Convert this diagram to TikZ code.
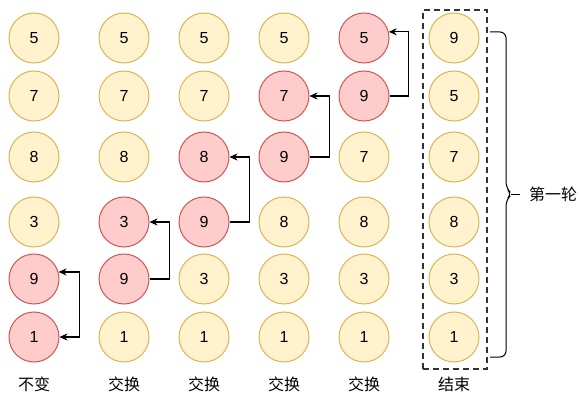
\documentclass[tikz,border=0pt]{standalone}
\usepackage{fontspec}
\setmainfont{Liberation Sans}
\newfontfamily\cjk{Noto Sans CJK SC}
\usetikzlibrary{arrows.meta}
\definecolor{ylfill}{HTML}{FFF2CC}
\definecolor{yldraw}{HTML}{D6B656}
\definecolor{rdfill}{HTML}{FFCCCC}
\definecolor{rddraw}{HTML}{CC5555}
\definecolor{boxgray}{HTML}{333333}
\begin{document}
\begin{tikzpicture}[
    x=1pt, y=-1pt,
    font=\fontsize{16}{19}\selectfont,
    yellow_node/.style={circle, draw=yldraw, fill=ylfill, minimum size=50pt, inner sep=0pt, line width=1pt},
    red_node/.style={circle, draw=rddraw, fill=rdfill, minimum size=50pt, inner sep=0pt, line width=1pt},
    label_node/.style={font=\fontsize{16}{19}\selectfont\cjk},
    directed/.style={-{Stealth[length=8pt,width=7pt]}, line width=1.1pt}
]
    \useasboundingbox (0,0) rectangle (581,401);
    % column 1
    \node[yellow_node] (A1) at (34,38) {5};
    \node[yellow_node] (A2) at (34,96) {7};
    \node[yellow_node] (A3) at (34,157) {8};
    \node[yellow_node] (A4) at (34,222) {3};
    \node[red_node] (A5) at (34,279) {9};
    \node[red_node] (A6) at (34,337) {1};
    % column 2
    \node[yellow_node] (B1) at (124,38) {5};
    \node[yellow_node] (B2) at (124,96) {7};
    \node[yellow_node] (B3) at (124,157) {8};
    \node[red_node] (B4) at (124,222) {3};
    \node[red_node] (B5) at (124,279) {9};
    \node[yellow_node] (B6) at (124,337) {1};
    % column 3
    \node[yellow_node] (C1) at (204,38) {5};
    \node[yellow_node] (C2) at (204,96) {7};
    \node[red_node] (C3) at (204,157) {8};
    \node[red_node] (C4) at (204,222) {9};
    \node[yellow_node] (C5) at (204,279) {3};
    \node[yellow_node] (C6) at (204,337) {1};
    % column 4
    \node[yellow_node] (D1) at (284,38) {5};
    \node[red_node] (D2) at (284,96) {7};
    \node[red_node] (D3) at (284,157) {9};
    \node[yellow_node] (D4) at (284,222) {8};
    \node[yellow_node] (D5) at (284,279) {3};
    \node[yellow_node] (D6) at (284,337) {1};
    % column 5
    \node[red_node] (E1) at (364,38) {5};
    \node[red_node] (E2) at (364,96) {9};
    \node[yellow_node] (E3) at (364,157) {7};
    \node[yellow_node] (E4) at (364,222) {8};
    \node[yellow_node] (E5) at (364,279) {3};
    \node[yellow_node] (E6) at (364,337) {1};
    % result
    \node[yellow_node] (F1) at (454,38) {9};
    \node[yellow_node] (F2) at (454,96) {5};
    \node[yellow_node] (F3) at (454,157) {7};
    \node[yellow_node] (F4) at (454,222) {8};
    \node[yellow_node] (F5) at (454,279) {3};
    \node[yellow_node] (F6) at (454,337) {1};
    \node[draw=boxgray, dashed, dash pattern=on 6pt off 4pt, line width=2pt, minimum width=64pt, minimum height=359pt] (frame) at (455,189.5) {};
    % labels
    \node[label_node] (LA) at (34,384) {不变};
    \node[label_node] (LB) at (124,384) {交换};
    \node[label_node] (LC) at (204,384) {交换};
    \node[label_node] (LD) at (284,384) {交换};
    \node[label_node] (LE) at (364,384) {交换};
    \node[label_node] (LF) at (454,384) {结束};
    \node[label_node] (round) at (553,194) {第一轮};
    % swaps
    \draw [{Stealth[length=8pt,width=7pt]}-{Stealth[length=8pt,width=7pt]}, line width=1.1pt] (A5.16) -| ([xshift=20pt]A6.east) -- (A6.east);
    \draw [directed] (B5.east) -| ([xshift=20pt]B4.east) -- (B4.east);
    \draw [directed] (C4.east) -| ([xshift=20pt]C3.east) -- (C3.east);
    \draw [directed] (D3.east) -| ([xshift=20pt]D2.east) -- (D2.east);
    \draw [directed] (E2.east) -| ([xshift=20pt]E1.14) -- (E1.14);
    % brace
    \draw [line width=1pt, rounded corners=6pt] (490,32) -| (506,188) -- (512,194) -- (506,200) |- (490,357);
    \draw [line width=1pt] (511,194) -- (520,194);
\end{tikzpicture}
\end{document}
